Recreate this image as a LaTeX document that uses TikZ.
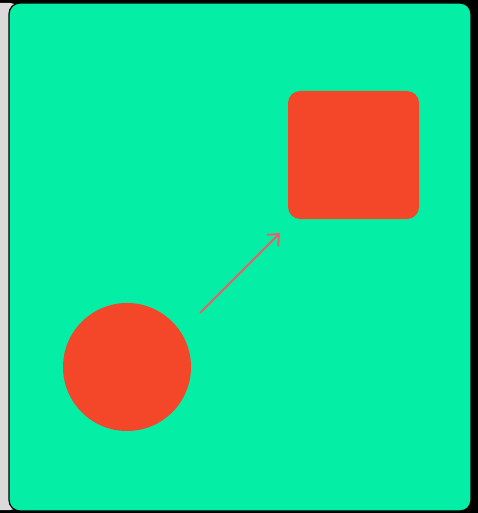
\documentclass[tikz,border=0pt]{standalone}
\usetikzlibrary{arrows.meta}
\definecolor{bgblack}{HTML}{000000}
\definecolor{panelgrey}{HTML}{DADADA}
\definecolor{mint}{HTML}{05EEA6}
\definecolor{redorange}{HTML}{F44629}
\definecolor{arrowpink}{HTML}{E8606A}
\tikzset{
  shapefill/.style={fill=redorange, draw=none},
  link/.style={draw=arrowpink, line width=2pt, -{Straight Barb[length=9pt,width=16pt,line width=2pt]}}
}
\begin{document}
\begin{tikzpicture}[x=1pt,y=-1pt]
\useasboundingbox (0,0) rectangle (478,513);
\fill[bgblack] (0,0) rectangle (478,513);
\fill[panelgrey, rounded corners=10pt] (-20,3) rectangle (20,510);
\draw[black, line width=1.2pt, fill=mint, rounded corners=11pt] (9,3) rectangle (471,511);
\node[shapefill, rounded corners=12pt, minimum width=131pt, minimum height=128pt, inner sep=0pt] (sq) at (353.5,155) {};
\node[shapefill, circle, minimum size=128pt, inner sep=0pt] (ci) at (127,367) {};
\coordinate (a0) at (200,313);
\coordinate (a1) at (280,233);
\draw[link] (a0) -- (a1);
\end{tikzpicture}
\end{document}
